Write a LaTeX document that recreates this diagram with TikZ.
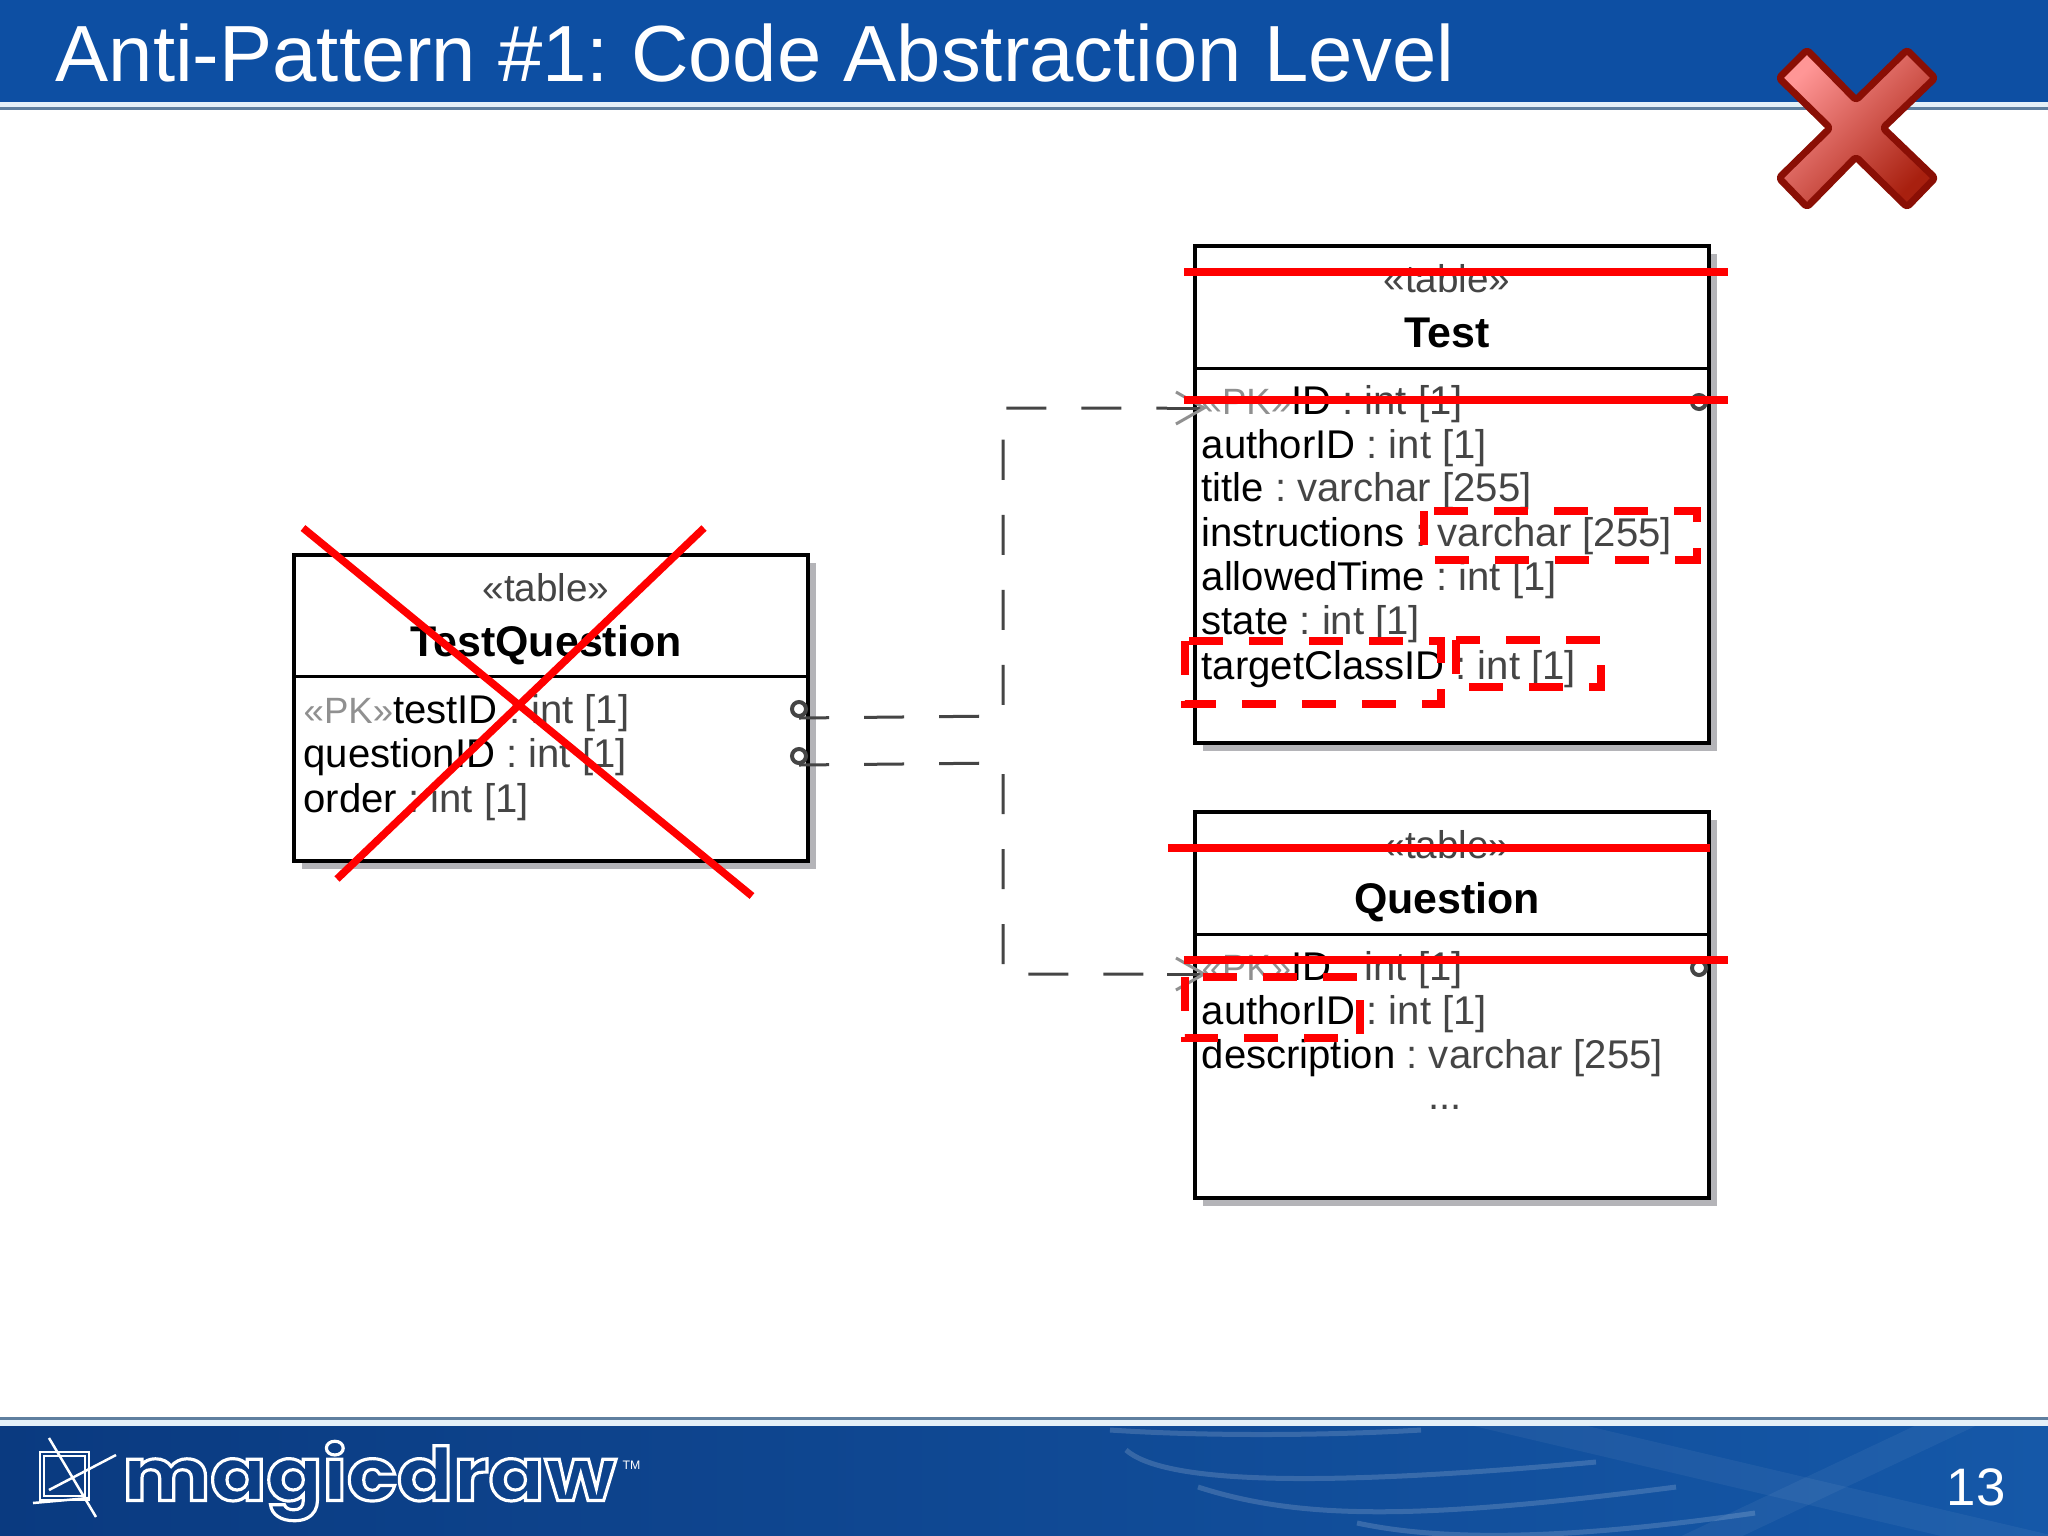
\documentclass[tikz,border=0pt]{standalone}
\usepackage{fontspec}
\usepackage{tikz}
\usetikzlibrary{shadows,arrows.meta}
\setmainfont{Liberation Sans}
\newfontfamily\logofont[FakeStretch=1.12]{Poppins}
\definecolor{bandblue}{HTML}{0D4FA3}
\definecolor{footblue}{HTML}{0A3A80}
\definecolor{footlight}{HTML}{1558A8}
\definecolor{ruleblue}{HTML}{5F7F9F}
\definecolor{palestrip}{HTML}{E4F0F8}
\definecolor{typegray}{HTML}{454545}
\definecolor{pkgray}{HTML}{909090}
\definecolor{shadowgray}{HTML}{B4B4B8}
\definecolor{crossred}{HTML}{FF0000}
\definecolor{bigdark}{HTML}{8A0F05}
\definecolor{biglight}{HTML}{FF9696}
\definecolor{bigdeep}{HTML}{A8200F}
\tikzset{
  tablebox/.style={draw=black, line width=0.4mm, fill=white, anchor=north west, inner sep=0pt,
    general shadow={fill=shadowgray, shadow xshift=0.8mm, shadow yshift=-0.8mm}},
  tablerule/.style={draw=black, line width=0.3mm},
  stereo/.style={font=\fontsize{11}{13}\selectfont, text=typegray},
  tablename/.style={font=\fontsize{12.2}{14}\selectfont\bfseries},
  rowtext/.style={anchor=west, inner sep=0pt, font=\fontsize{11.4}{14}\selectfont},
  keylink/.style={draw=typegray, line width=0.3mm, dash pattern=on 4mm off 3.5mm, dash phase=1mm},
  keyarrow/.style={draw=typegray, line width=0.3mm, -{Straight Barb[length=2.8mm,width=3.2mm,color=pkgray]}},
  porthole/.style={draw=typegray, circle, line width=0.4mm, minimum size=1.4mm, inner sep=0pt},
  strikeline/.style={draw=crossred, line width=0.75mm},
  markbox/.style={draw=crossred, line width=0.75mm, dash pattern=on 3.4mm off 2.6mm},
  swoosh/.style={draw=white, line width=0.5mm, opacity=0.16},
  swooshwide/.style={draw=white, line width=2.6mm, opacity=0.05},
}
\newcommand{\typed}[1]{{\color{typegray}#1}}
\newcommand{\pk}{{\fontsize{10.4}{14}\selectfont\color{pkgray}«PK»}}
\begin{document}
\frenchspacing
\begin{tikzpicture}[x=0.01cm, y=-0.01cm]
\useasboundingbox (0,0) rectangle (2048,1536);

% slide header and footer
\fill[white] (0,0) rectangle (2048,1536);
\fill[bandblue] (0,0) rectangle (2048,102);
\fill[palestrip] (0,102) rectangle (2048,107);
\fill[ruleblue] (0,107) rectangle (2048,110);
\fill[ruleblue] (0,1417) rectangle (2048,1420);
\fill[palestrip] (0,1420) rectangle (2048,1426);
\fill[left color=footblue, middle color=footblue, right color=footlight] (0,1426) rectangle (2048,1536);
\begin{scope}
\clip (0,1426) rectangle (2048,1536);
\draw[swoosh] (1110,1430) .. controls (1200,1436) and (1320,1436) .. (1421,1430);
\draw[swoosh] (1126,1450) .. controls (1160,1480) and (1290,1490) .. (1596,1462);
\draw[swoosh] (1198,1487) .. controls (1300,1520) and (1420,1520) .. (1676,1487);
\draw[swoosh] (1357,1523) .. controls (1460,1545) and (1600,1535) .. (1755,1513);
\draw[swooshwide] (1420,1400) -- (2100,1560);
\draw[swooshwide] (1640,1570) -- (2000,1400);
\end{scope}
\node[anchor=west, inner sep=0pt, text=white, font=\fontsize{22.65}{26}\selectfont] (title) at (55,53) {Anti-Pattern \#1: Code Abstraction Level};
\node[text=white, inner sep=0pt, font=\fontsize{15}{18}\selectfont] (pagenum) at (1976,1487) {13};

% logo
\draw[white, line width=0.2mm] (40,1452) rectangle (89,1500) (44,1456) rectangle (85,1496);
\draw[white, line width=0.25mm] (49,1438) -- (96,1517) (33,1503) -- (89,1498) (49,1490) -- (116,1455);
\node[anchor=west, inner sep=0pt, font=\logofont\fontsize{21}{24}\selectfont\bfseries] (logo) at (122,1481)
  {\special{pdf:code 1 1 1 RG 1 Tr 0.9 w}magicdraw\special{pdf:code 0 Tr 0 0 0 RG}};
\node[anchor=west, inner sep=0pt, text=white, font=\fontsize{3.5}{4}\selectfont] (tmark) at (622,1465) {TM};

% tables
\node[tablebox, minimum width=5.14cm, minimum height=4.97cm] (tabTest) at (1193,244) {};
\node[tablebox, minimum width=5.14cm, minimum height=3.86cm] (tabQuestion) at (1193,810) {};
\node[tablebox, minimum width=5.14cm, minimum height=3.06cm] (tabLink) at (292,553) {};
\draw[tablerule] (tabTest.west |- 0,368) -- (tabTest.east |- 0,368);
\draw[tablerule] (tabQuestion.west |- 0,934) -- (tabQuestion.east |- 0,934);
\draw[tablerule] (tabLink.west |- 0,676) -- (tabLink.east |- 0,676);

\node[stereo] (testStereo) at (1447,279) {«table»};
\node[tablename] (testName) at (1447,333) {Test};
\node[rowtext] (testRow1) at (1201,404) {\pk ID \typed{: int [1]}};
\node[rowtext] (testRow2) at (1201,448) {authorID \typed{: int [1]}};
\node[rowtext] (testRow3) at (1201,491) {title \typed{: varchar [255]}};
\node[rowtext] (testRow4) at (1201,536) {instructions \typed{: varchar [255]}};
\node[rowtext] (testRow5) at (1201,580) {allowedTime \typed{: int [1]}};
\node[rowtext] (testRow6) at (1201,624) {state \typed{: int [1]}};
\node[rowtext] (testRow7) at (1201,669) {targetClassID \typed{: int [1]}};

\node[stereo] (questionStereo) at (1447,845) {«table»};
\node[tablename] (questionName) at (1447,902) {Question};
\node[rowtext] (questionRow1) at (1201,970) {\pk ID \typed{: int [1]}};
\node[rowtext] (questionRow2) at (1201,1014) {authorID \typed{: int [1]}};
\node[rowtext] (questionRow3) at (1201,1058) {description \typed{: varchar [255]}};
\node[inner sep=0pt, font=\fontsize{11.4}{14}\selectfont, text=typegray] (questionRow4) at (1445,1107) {...};

\node[stereo] (linkStereo) at (546,588) {«table»};
\node[tablename] (linkName) at (546,645) {TestQuestion};
\node[rowtext] (linkRow1) at (303,713) {\pk testID \typed{: int [1]}};
\node[rowtext] (linkRow2) at (303,757) {questionID \typed{: int [1]}};
\node[rowtext] (linkRow3) at (303,802) {order \typed{: int [1]}};

% ports and foreign keys
\node[porthole] (portTestFk) at (799,709) {};
\node[porthole] (portQuestionFk) at (799,756) {};
\node[porthole] (portTest) at (1699,402) {};
\node[porthole] (portQuestion) at (1699,968) {};
\coordinate (bendTestA) at (1003,716);
\coordinate (bendTestB) at (1003,408);
\coordinate (bendQuestionA) at (1003,763);
\coordinate (bendQuestionB) at (1003,974);
\coordinate (testIn) at (1207,408);
\coordinate (questionIn) at (1207,974);
\coordinate (testShaft) at (1167,408);
\coordinate (questionShaft) at (1167,974);
\draw[keylink] (portTestFk.south) -- (bendTestA) -- (bendTestB) -- (testShaft);
\draw[keylink] (portQuestionFk.south) -- (bendQuestionA) -- (bendQuestionB) -- (questionShaft);
\draw[keyarrow] (testShaft) -- (testIn);
\draw[keyarrow] (questionShaft) -- (questionIn);

% strike outs
\coordinate (strikeA) at (1184,272); \coordinate (strikeB) at (1728,272);
\coordinate (strikeC) at (1184,400); \coordinate (strikeD) at (1728,400);
\coordinate (strikeE) at (1168,848); \coordinate (strikeF) at (1710,848);
\coordinate (strikeG) at (1184,960); \coordinate (strikeH) at (1728,960);
\draw[strikeline] (strikeA) -- (strikeB);
\draw[strikeline] (strikeC) -- (strikeD);
\draw[strikeline] (strikeE) -- (strikeF);
\draw[strikeline] (strikeG) -- (strikeH);
\coordinate (crossA) at (303,528); \coordinate (crossB) at (752,896);
\coordinate (crossC) at (704,528); \coordinate (crossD) at (337,879);
\draw[strikeline] (crossA) -- (crossB);
\draw[strikeline] (crossC) -- (crossD);

\draw[markbox] (1424,511) rectangle (1697,560);
\draw[markbox] (1185,641) rectangle (1441,704);
\draw[markbox] (1456,640) rectangle (1601,687);
\draw[markbox] (1185,977) rectangle (1360,1038);

% big cross
\draw[draw=bigdark, line width=0.7mm, line join=round, rounded corners=0.3mm, top color=biglight, bottom color=bigdeep, shading angle=45]
  (1807,50) -- (1779,78) -- (1830,128) -- (1779,178) -- (1807,207) -- (1856,157) -- (1907,207) -- (1935,178) -- (1883,128) -- (1935,78) -- (1907,50) -- (1856,100) -- cycle;
\end{tikzpicture}
\end{document}
